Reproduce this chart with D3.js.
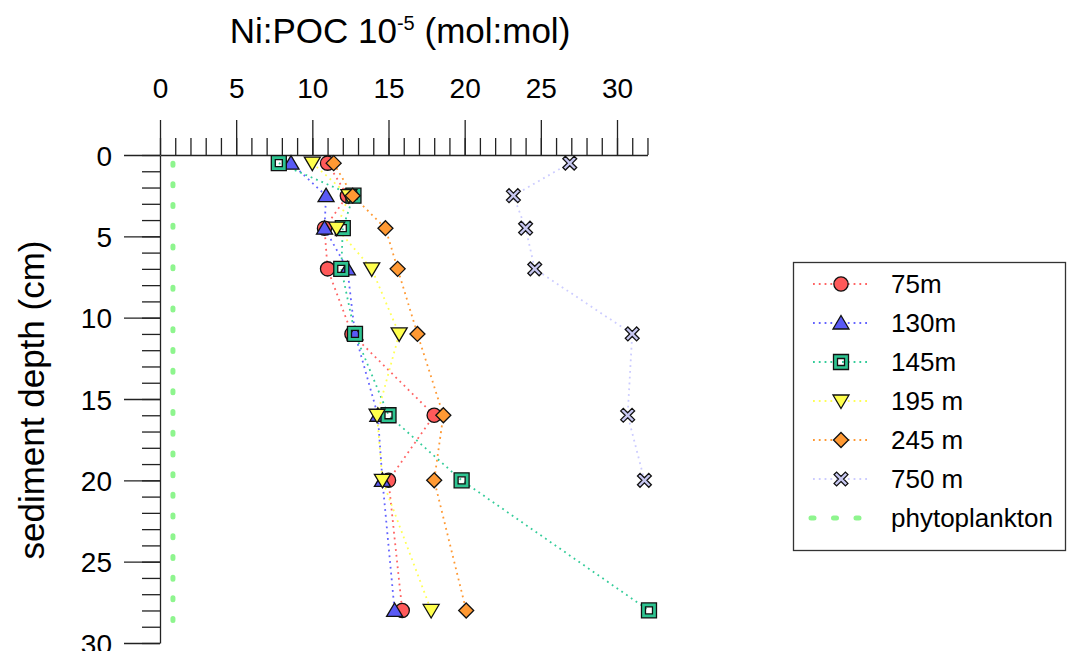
<!DOCTYPE html>
<html>
<head>
<meta charset="utf-8">
<script src="https://cdn.jsdelivr.net/npm/d3@7"></script>
<style>
  body { margin: 0; background: #fff; }
  svg { font-family: "Liberation Sans", Arial, sans-serif; }
</style>
</head>
<body>
<svg id="chart" width="1067" height="651"></svg>
<script>
'use strict'

// sediment depths (cm) shared by every station
const depths = [0.5, 2.5, 4.5, 7, 11, 16, 20, 28]

// Ni:POC values (10^-5 mol:mol), one per depth
const ni75 = [11.0, 12.3, 10.8, 11.0, 12.6, 18.0, 15.0, 15.9]
const ni130 = [8.6, 10.9, 10.8, 12.3, 12.8, 14.3, 14.6, 15.4]
const ni145 = [7.8, 12.7, 12.0, 11.9, 12.8, 15.0, 19.8, 32.1]
const ni195 = [10.0, 12.4, 11.6, 13.9, 15.7, 14.25, 14.6, 17.8]
const ni245 = [11.4, 12.65, 14.8, 15.6, 16.9, 18.6, 18.0, 20.1]
const ni750 = [26.9, 23.2, 24.0, 24.6, 31.0, 30.7, 31.8, null]

const seriesNames = ['75m', '130m', '145m', '195 m', '245 m', '750 m']
const seriesValues = [ni75, ni130, ni145, ni195, ni245, ni750]

// phytoplankton reference value and depth span
const phytoValue = 0.85
const phytoDepths = [0.5, 29]

const xTicks = [0, 5, 10, 15, 20, 25, 30]
const yTicks = [0, 5, 10, 15, 20, 25, 30]

const fills = ['#ff5a5a', '#5a5af5', '#2ec491', '#ffff4d', '#ff9933', '#c8c8f2']
const strokes = ['#ff6464', '#6464ff', '#33cc99', '#ffff55', '#ff9933', '#ccccff']
const shapes = ['circle', 'up', 'square', 'down', 'diamond', 'cross']

const svg = d3.select('#chart')

const x = d3.scaleLinear().domain([0, 30]).range([160, 617])
const y = d3.scaleLinear().domain([0, 30]).range([155, 643])

function markerPath (shape) {
  if (shape === 'circle') return d3.symbol(d3.symbolCircle, 160)()
  if (shape === 'up') return 'M0,-7.5L8,6L-8,6Z'
  if (shape === 'down') return 'M0,7.5L8,-6L-8,-6Z'
  if (shape === 'diamond') return 'M0,-7.5L7.5,0L0,7.5L-7.5,0Z'
  if (shape === 'square') {
    return 'M-7.5,-7.5H7.5V7.5H-7.5Z M-3.5,-3.5V3.5H3.5V-3.5Z'
  }
  // X made of a rotated plus
  const a = 8
  const w = 1.8
  const pts = [[w, w], [a, w], [a, -w], [w, -w], [w, -a], [-w, -a], [-w, -w], [-a, -w], [-a, w], [-w, w], [-w, a], [w, a]]
  const r = Math.SQRT1_2
  return 'M' + pts.map(function (p) {
    return [(p[0] - p[1]) * r, (p[0] + p[1]) * r].join(',')
  }).join('L') + 'Z'
}

// ---- axes ----
const axisColor = '#222'

const xMinor = d3.axisTop(d3.scaleLinear().domain([0, 32]).range([x(0), x(32)]))
  .tickValues(d3.range(0, 33))
  .tickSize(17)
  .tickSizeOuter(0)
  .tickFormat('')
svg.append('g').attr('transform', 'translate(0,' + y(0) + ')').call(xMinor)

const xMajor = d3.axisTop(x)
  .tickValues(xTicks)
  .tickSize(35)
  .tickPadding(22)
  .tickSizeOuter(0)
const gx = svg.append('g').attr('transform', 'translate(0,' + y(0) + ')').call(xMajor)
gx.select('.domain').remove()

const yMinor = d3.axisLeft(y)
  .tickValues(d3.range(0, 31))
  .tickSize(18)
  .tickSizeOuter(0)
  .tickFormat('')
svg.append('g').attr('transform', 'translate(' + x(0) + ',0)').call(yMinor)

const yMajor = d3.axisLeft(y)
  .tickValues(yTicks)
  .tickSize(36)
  .tickPadding(12)
  .tickSizeOuter(0)
const gy = svg.append('g').attr('transform', 'translate(' + x(0) + ',0)').call(yMajor)
gy.select('.domain').remove()

svg.selectAll('.tick line').attr('stroke', axisColor).attr('stroke-width', 1.3)
svg.selectAll('.domain').attr('stroke', axisColor).attr('stroke-width', 1.3)
svg.selectAll('.tick text')
  .attr('font-family', '"Liberation Sans", Arial, sans-serif')
  .attr('font-size', 28)
  .attr('fill', '#000')
gy.selectAll('.tick text').attr('dy', '0.36em')

// axis titles
const title = svg.append('text')
  .attr('x', 400)
  .attr('y', 43)
  .attr('text-anchor', 'middle')
  .attr('font-size', 35)
title.append('tspan').text('Ni:POC 10')
title.append('tspan').text('-5').attr('font-size', 20).attr('dy', -13)
title.append('tspan').text(' (mol:mol)').attr('dy', 13)

svg.append('text')
  .attr('transform', 'translate(44,400) rotate(-90)')
  .attr('text-anchor', 'middle')
  .attr('font-size', 35)
  .text('sediment depth (cm)')

// ---- phytoplankton line ----
const phytoColor = '#8ef58e'
svg.append('line')
  .attr('x1', x(phytoValue))
  .attr('x2', x(phytoValue))
  .attr('y1', y(phytoDepths[0]))
  .attr('y2', y(phytoDepths[1]))
  .attr('stroke', phytoColor)
  .attr('stroke-width', 5)
  .attr('stroke-linecap', 'round')
  .attr('stroke-dasharray', '2,18.7')

// ---- series lines ----
const line = d3.line()
  .defined(function (d) { return d[0] != null })
  .x(function (d) { return x(d[0]) })
  .y(function (d) { return y(d[1]) })

seriesValues.forEach(function (vals, i) {
  svg.append('path')
    .datum(vals.map(function (v, j) { return [v, depths[j]] }))
    .attr('fill', 'none')
    .attr('stroke', strokes[i])
    .attr('stroke-width', 1.8)
    .attr('stroke-dasharray', '1.8,4')
    .attr('d', line)
})

// ---- markers ----
seriesValues.forEach(function (vals, i) {
  svg.append('g').selectAll('path')
    .data(vals.map(function (v, j) { return [v, depths[j]] }).filter(function (d) { return d[0] != null }))
    .enter()
    .append('path')
    .attr('transform', function (d) { return 'translate(' + x(d[0]) + ',' + y(d[1]) + ')' })
    .attr('d', markerPath(shapes[i]))
    .attr('fill', fills[i])
    .attr('fill-rule', 'evenodd')
    .attr('stroke', '#111')
    .attr('stroke-width', 1.3)
})

// ---- legend ----
const legend = svg.append('g')
legend.append('rect')
  .attr('x', 793.5)
  .attr('y', 262.5)
  .attr('width', 272)
  .attr('height', 288)
  .attr('fill', '#fff')
  .attr('stroke', '#333')
  .attr('stroke-width', 1.3)

const rowY = function (k) { return 284 + k * 39 }

seriesNames.forEach(function (name, i) {
  const ly = rowY(i)
  legend.append('line')
    .attr('x1', 813).attr('x2', 869)
    .attr('y1', ly).attr('y2', ly)
    .attr('stroke', strokes[i])
    .attr('stroke-width', 1.8)
    .attr('stroke-dasharray', '1.8,4')
  legend.append('path')
    .attr('transform', 'translate(841,' + ly + ')')
    .attr('d', markerPath(shapes[i]))
    .attr('fill', fills[i])
    .attr('fill-rule', 'evenodd')
    .attr('stroke', '#111')
    .attr('stroke-width', 1.3)
  legend.append('text')
    .attr('x', 891)
    .attr('y', ly)
    .attr('dy', '0.36em')
    .attr('font-size', 26)
    .text(name)
})

const py = rowY(6)
legend.append('line')
  .attr('x1', 811).attr('x2', 861)
  .attr('y1', py).attr('y2', py)
  .attr('stroke', phytoColor)
  .attr('stroke-width', 5)
  .attr('stroke-linecap', 'round')
  .attr('stroke-dasharray', '3,19.5')
legend.append('text')
  .attr('x', 891)
  .attr('y', py)
  .attr('dy', '0.36em')
  .attr('font-size', 26)
  .text('phytoplankton')
</script>
</body>
</html>
